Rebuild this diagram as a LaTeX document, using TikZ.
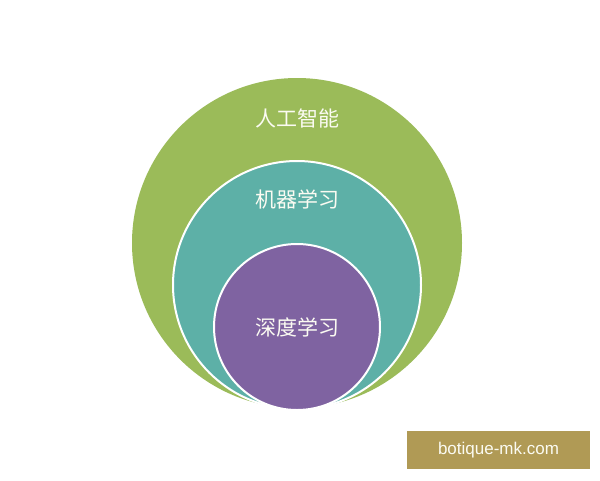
\documentclass[tikz,border=0pt]{standalone}
\usepackage{fontspec}
\setsansfont{Liberation Sans}
\newfontfamily\cjk{Noto Sans CJK SC}
\definecolor{aigreen}{HTML}{9BBB59}
\definecolor{mlteal}{HTML}{5DB0A7}
\definecolor{dlpurple}{HTML}{7F63A1}
\definecolor{markgold}{HTML}{B09A55}
\definecolor{labelwhite}{HTML}{FBFBF2}
\tikzset{
    label/.style={text=labelwhite,font=\cjk\fontsize{21}{25}\selectfont},
}

\begin{document}
\begin{tikzpicture}[x=1pt,y=-1pt]
    \useasboundingbox (0,0) rectangle (600,480);
    \fill[white] (0,0) rectangle (600,480);

    \fill[aigreen] (297,243) circle (165);
    \fill[mlteal,draw=white,line width=2] (297,285) circle (124);
    \fill[dlpurple,draw=white,line width=2] (297,327) circle (83);

    \node[label] (ai) at (297,118) {人工智能};
    \node[label] (ml) at (297,199) {机器学习};
    \node[label] (dl) at (297,327) {深度学习};

    \fill[markgold] (407,431) rectangle (590,469);
    \node[text=labelwhite,font=\sffamily\fontsize{17}{20}\selectfont] (mark) at (498.5,450) {botique-mk.com};
\end{tikzpicture}
\end{document}
